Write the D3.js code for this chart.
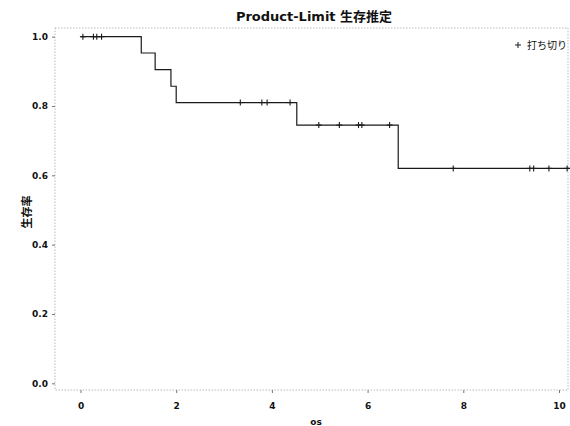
<!DOCTYPE html>
<html><head><meta charset="utf-8">
<script src="https://cdn.jsdelivr.net/npm/d3@7"></script>
<style>body{margin:0;background:#fff;} svg{display:block;}</style>
</head><body>
<script>
// Data
const stepTimes = [0, 1.27, 1.56, 1.89, 2.0, 4.52, 6.64];
const stepSurv  = [1.0, 0.953, 0.905, 0.857, 0.81, 0.745, 0.62];
const endTime = 10.3;
const censorTimes = [0.05, 0.27, 0.34, 0.44, 3.34, 3.79, 3.90, 4.38, 4.98, 5.41, 5.81, 5.88, 6.46, 7.79, 9.39, 9.47, 9.79, 10.17];
const xTicks = [0, 2, 4, 6, 8, 10];
const yTicks = [0.0, 0.2, 0.4, 0.6, 0.8, 1.0];
const titleText = "Product-Limit 生存推定";
const yTitle = "生存率";
const xTitle = "os";
const legendText = "打ち切り";

const W = 570, H = 426;
const svg = d3.select("body").append("svg").attr("width", W).attr("height", H);
const x = d3.scaleLinear().domain([0, 10]).range([80.5, 559]);
const y = d3.scaleLinear().domain([0, 1]).range([383.3, 36.7]);
const frame = {l: 55, r: 568, t: 28, b: 390};
const font = "'DejaVu Sans', 'Noto Sans CJK JP', sans-serif";

// frame (dotted)
svg.append("rect").attr("x", frame.l).attr("y", frame.t)
  .attr("width", frame.r - frame.l).attr("height", frame.b - frame.t)
  .attr("fill", "none").attr("stroke", "#aaa").attr("stroke-width", 0.8)
  .attr("stroke-dasharray", "1.5,1.5");

// y axis
const yAxis = d3.axisLeft(y).tickValues(yTicks).tickFormat(d3.format(".1f")).tickSize(3).tickPadding(4);
const gy = svg.append("g").attr("transform", `translate(${frame.l},0)`).call(yAxis);
gy.select(".domain").remove();
gy.selectAll("line").attr("stroke", "#777");
gy.selectAll("text").attr("font-family", font).attr("font-weight", "bold").attr("font-size", 9).attr("fill", "#111");

// x axis
const xAxis = d3.axisBottom(x).tickValues(xTicks).tickFormat(d3.format("d")).tickSize(3).tickPadding(10);
const gx = svg.append("g").attr("transform", `translate(0,${frame.b})`).call(xAxis);
gx.select(".domain").remove();
gx.selectAll("line").attr("stroke", "#777");
gx.selectAll("text").attr("font-family", font).attr("font-weight", "bold").attr("font-size", 9).attr("fill", "#111");

// step curve
const pts = stepTimes.map((t, i) => [t, stepSurv[i]]);
pts.push([endTime, stepSurv[stepSurv.length - 1]]);
const line = d3.line().x(d => x(d[0])).y(d => y(d[1])).curve(d3.curveStepAfter);
svg.append("path").datum(pts).attr("d", line).attr("fill", "none")
  .attr("stroke", "#1a1a1a").attr("stroke-width", 1.2);

// survival at time t
function survAt(t) {
  let s = 1;
  for (let i = 0; i < stepTimes.length; i++) if (stepTimes[i] <= t) s = stepSurv[i];
  return s;
}
// censor marks
const cg = svg.append("g").attr("stroke", "#1a1a1a").attr("stroke-width", 1.1);
censorTimes.forEach(t => {
  const cx = x(t), cy = y(survAt(t));
  cg.append("line").attr("x1", cx).attr("x2", cx).attr("y1", cy - 3).attr("y2", cy + 3);
  cg.append("line").attr("x1", cx - 3).attr("x2", cx + 3).attr("y1", cy).attr("y2", cy);
});

// title
svg.append("text").attr("x", 314).attr("y", 21).attr("text-anchor", "middle")
  .attr("font-family", font).attr("font-weight", "bold").attr("font-size", 13).attr("fill", "#111")
  .text(titleText);

// y title
svg.append("text").attr("transform", "translate(31,212) rotate(-90)").attr("text-anchor", "middle")
  .attr("font-family", font).attr("font-weight", "bold").attr("font-size", 11).attr("fill", "#111")
  .text(yTitle);

// x title
svg.append("text").attr("x", 316).attr("y", 425).attr("text-anchor", "middle")
  .attr("font-family", font).attr("font-weight", "bold").attr("font-size", 9).attr("fill", "#111")
  .text(xTitle);

// legend
const lg = svg.append("g").attr("stroke", "#1a1a1a").attr("stroke-width", 1);
lg.append("line").attr("x1", 518).attr("x2", 518).attr("y1", 42).attr("y2", 48);
lg.append("line").attr("x1", 515).attr("x2", 521).attr("y1", 45).attr("y2", 45);
svg.append("text").attr("x", 527).attr("y", 49)
  .attr("font-family", font).attr("font-size", 10).attr("fill", "#111").text(legendText);
</script>
</body></html>
